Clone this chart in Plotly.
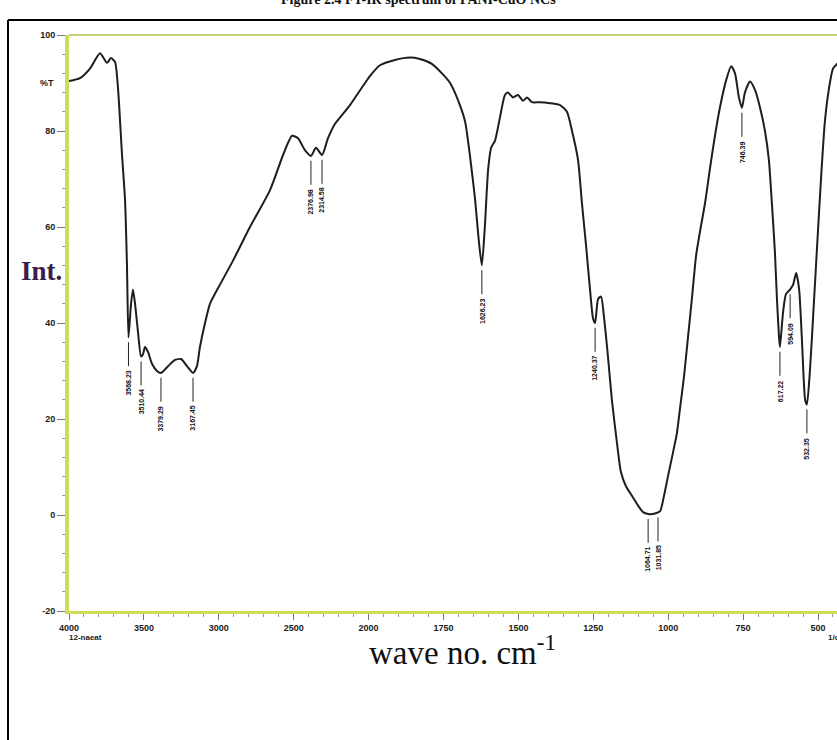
import numpy as np
import plotly.graph_objects as go

# ---------------- data ----------------
wavenumber = [4000, 3927, 3860, 3793, 3746, 3720, 3693, 3673, 3646, 3626, 3613, 3603,
              3586, 3573, 3559, 3539, 3519, 3506, 3493, 3473, 3446, 3413, 3386, 3339,
              3292, 3252, 3212, 3172, 3146, 3126, 3092, 3059, 2992, 2905, 2792, 2658,
              2571, 2511, 2471, 2425, 2385, 2351, 2311, 2271, 2224, 2124, 2024, 1995,
              1962, 1912, 1862, 1829, 1789, 1755, 1728, 1702, 1678, 1662, 1645, 1632,
              1622, 1612, 1601, 1591, 1578, 1561, 1545, 1535, 1518, 1501, 1485, 1471,
              1455, 1428, 1395, 1361, 1338, 1321, 1301, 1288, 1274, 1261, 1251, 1244,
              1234, 1224, 1214, 1201, 1188, 1171, 1158, 1141, 1121, 1101, 1084, 1067,
              1044, 1027, 1014, 1001, 984, 971, 961, 947, 934, 921, 907, 894, 877, 861,
              844, 827, 807, 790, 777, 764, 754, 744, 727, 710, 694, 677, 664, 654, 644,
              637, 630, 627, 617, 607, 593, 583, 573, 563, 554, 543, 537, 527, 513, 503,
              490, 477, 463, 450, 436, 420]
transmittance = [90.4, 91, 93, 96.2, 94.2, 95.2, 94.4, 89, 75, 65.6, 52, 37,
                 44, 47, 44, 38, 33, 33.5, 35, 34, 31.5, 30, 29.6, 31,
                 32.3, 32.5, 31, 29.6, 31, 35, 40, 44, 48, 53, 60, 67.7,
                 75, 79, 78.5, 76, 74.8, 76.5, 75, 78.5, 81.5, 85.4, 90, 91.5,
                 93.7, 94.8, 95.3, 95, 94, 92, 90, 86.5, 82, 75, 66, 57,
                 52, 60, 72, 76.5, 78, 83, 87.5, 88, 87, 87.5, 86.3, 87,
                 86, 86, 85.8, 85.4, 84, 80, 74, 65, 56, 47, 41, 40,
                 45, 45.5, 41, 33, 24, 15, 9, 6, 4, 2, 0.6, 0.2,
                 0.3, 0.8, 4, 8, 13, 17, 22, 29, 37, 45, 54, 59, 65, 72,
                 79, 85, 90.5, 93.5, 92, 87, 84.8, 88, 90.3, 88.5, 85, 80, 74, 65, 55,
                 45, 37, 35, 42, 46, 47, 48, 50.4, 47, 37, 24, 23, 30, 45, 56,
                 70, 82, 89, 93, 94, 95]

peak_wn = [3603, 3519, 3386, 3172, 2385, 2311, 1622, 1244, 1067, 1034, 754, 627, 593, 537]
peak_T = [37, 33, 29.6, 29.6, 74.8, 75, 52, 40, 0.2, 0.5, 84.8, 35, 47, 23]
peak_text = ["3568.23", "3510.44", "3379.29", "3167.45", "2376.98", "2314.58", "1626.23",
             "1240.37", "1064.71", "1031.85", "746.39", "617.22", "594.09", "532.35"]

xtick_wn = [4000, 3500, 3000, 2500, 2000, 1750, 1500, 1250, 1000, 750, 500]
ytick_vals = [-20, 0, 20, 40, 60, 80, 100]


def to_u(wn):
    """IR spectrometer abscissa: 500 cm-1 per division above 2000, 250 below."""
    wn = np.asarray(wn, dtype=float)
    return np.where(wn >= 2000, (4000 - wn) / 500.0, 4 + (2000 - wn) / 250.0)


W, H = 837, 740
L, T, B = 69, 35, 129
plot_w = W - L
plot_h = H - T - B
u_per_px = 1 / 74.9
x_max = plot_w * u_per_px


def px(xp):
    return (xp - L) / plot_w


def py(yp):
    return (H - B - yp) / plot_h


fig = go.Figure()
fig.add_trace(go.Scatter(
    x=to_u(wavenumber), y=transmittance, mode="lines",
    line=dict(color="#1e1e1e", width=2, shape="spline", smoothing=0.6),
    hoverinfo="skip", showlegend=False))

# peak markers: short vertical line + rotated label
pu = to_u(peak_wn)
for xu, yv, txt in zip(pu, peak_T, peak_text):
    fig.add_shape(type="line", x0=xu, x1=xu, y0=yv - 1, y1=yv - 6,
                  line=dict(color="#222", width=1))
    fig.add_annotation(x=xu, y=yv - 6.5, text="<b>" + txt + "</b>", textangle=-90,
                       showarrow=False, xanchor="center", yanchor="top",
                       font=dict(family="Arial", size=7, color="#111"))

axis_col = "#cfdc5a"
fig.update_xaxes(range=[0, x_max], tickvals=to_u(xtick_wn).tolist(),
                 ticktext=["<b>%d</b>" % v for v in xtick_wn],
                 showgrid=False, zeroline=False, showline=True, linewidth=3,
                 linecolor=axis_col, mirror=False, ticks="outside", ticklen=6,
                 tickcolor="#777", tickwidth=1,
                 minor=dict(dtick=0.2, tick0=0, ticklen=3, tickcolor="#999", ticks="outside"),
                 tickfont=dict(family="Arial", size=9, color="#1a1a1a"))
fig.update_yaxes(range=[-20, 100], tickvals=ytick_vals,
                 ticktext=["<b>%d</b>" % v for v in ytick_vals],
                 showgrid=False, zeroline=False, showline=True, linewidth=4,
                 linecolor=axis_col, ticks="outside", ticklen=8, tickcolor="#777",
                 tickwidth=1,
                 minor=dict(dtick=4, tick0=0, ticklen=3, tickcolor="#999", ticks="outside"),
                 tickfont=dict(family="Arial", size=9, color="#1a1a1a"))

# top border of plot
fig.add_shape(type="line", xref="paper", yref="paper", x0=0, x1=1, y0=1, y1=1,
              line=dict(color="#c8d080", width=2))
# black outer frame
fig.add_shape(type="line", xref="paper", yref="paper", x0=px(8), x1=px(8), y0=py(20), y1=-1,
              line=dict(color="#000", width=2))
fig.add_shape(type="line", xref="paper", yref="paper", x0=px(8), x1=1.2, y0=py(20), y1=py(20),
              line=dict(color="#000", width=2))

# texts
fig.add_annotation(xref="paper", yref="paper", x=px(56), y=py(83),
                   text="<b>%T</b>", showarrow=False, xanchor="right", yanchor="middle",
                   font=dict(family="Arial", size=9, color="#1a1a1a"))
fig.add_annotation(xref="paper", yref="paper", x=px(19), y=py(271),
                   text="<b>Int.</b>", showarrow=False, xanchor="left", yanchor="middle",
                   font=dict(family="Liberation Serif", size=27, color="#3a1d4a"))
fig.add_annotation(xref="paper", yref="paper", x=px(85), y=py(637),
                   text="<b>12-naeat</b>", showarrow=False, xanchor="center", yanchor="middle",
                   font=dict(family="Arial", size=8, color="#1a1a1a"))
fig.add_annotation(xref="paper", yref="paper", x=px(826), y=py(637),
                   text="<b>1/cm</b>", showarrow=False, xanchor="left", yanchor="middle",
                   font=dict(family="Arial", size=8, color="#1a1a1a"))
fig.add_annotation(xref="paper", yref="paper", x=px(462), y=py(650),
                   text="wave no. cm<sup>-1</sup>", showarrow=False, xanchor="center",
                   yanchor="middle",
                   font=dict(family="Liberation Serif", size=33, color="#111"))
fig.add_annotation(xref="paper", yref="paper", x=px(418), y=py(-1),
                   text="<b>Figure 2.4 FT-IR spectrum of PANI-CuO NCs</b>", showarrow=False,
                   xanchor="center", yanchor="middle",
                   font=dict(family="Liberation Serif", size=14, color="#111"))

fig.update_layout(width=W, height=H, margin=dict(l=L, r=0, t=T, b=B),
                  paper_bgcolor="white", plot_bgcolor="#fffffd",
                  showlegend=False)
fig.write_html("out.html")
